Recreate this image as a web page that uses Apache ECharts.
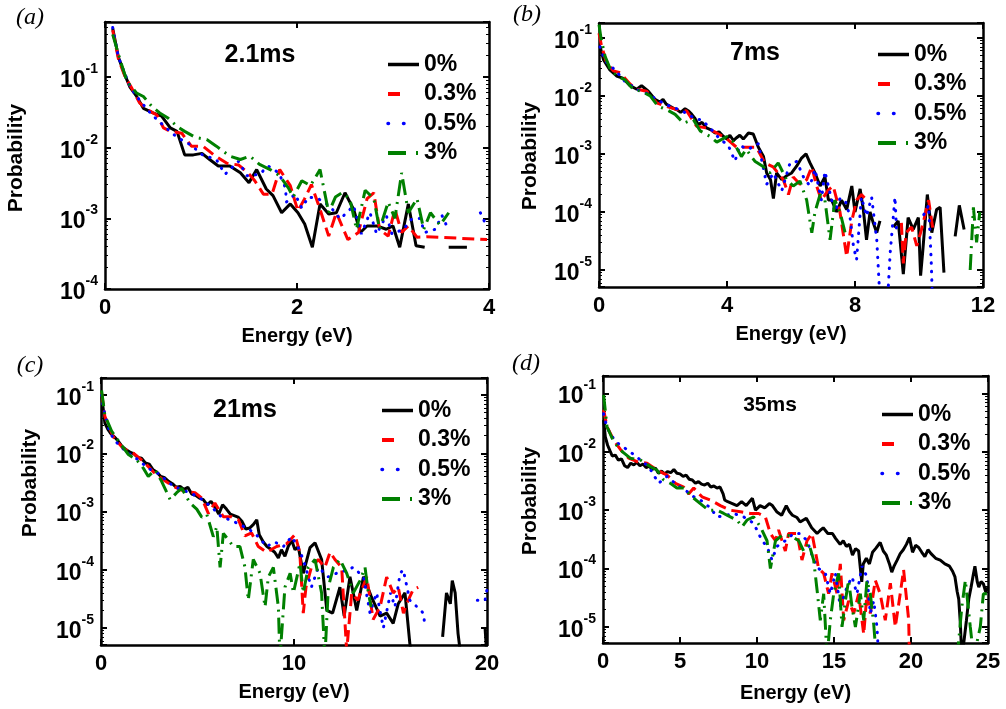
<!DOCTYPE html>
<html><head><meta charset="utf-8">
<script src="https://cdn.jsdelivr.net/npm/echarts@6/dist/echarts.min.js"></script>
<style>html,body{margin:0;padding:0;background:#fff}#c{width:1006px;height:709px}</style>
</head><body><div id="c"></div>
<script>
// ---------- DATA ----------
const seriesNames = ['0%', '0.3%', '0.5%', '3%'];
const panelTitles = ['2.1ms', '7ms', '21ms', '35ms'];
const panelTags = ['(a)', '(b)', '(c)', '(d)'];
const xMaxes = [4, 12, 20, 25];
const xIntervals = [2, 4, 10, 5];
const yMins = [1e-4, 5.1e-6, 5.1e-6, 5.3e-6];
const yMaxes = [0.6, 0.18, 0.196, 0.2];

// Panel (a) 2.1ms
const A_0 = [[0.08,0.49],[0.14,0.19],[0.20,0.113],[0.26,0.072],[0.33,0.053],[0.40,0.036],[0.50,0.031],[0.59,0.028],[0.68,0.019],[0.75,0.017],[0.83,0.0079],[0.92,0.0079],[1.01,0.0083],[1.09,0.0068],[1.18,0.0055],[1.30,0.0055],[1.41,0.0044],[1.50,0.0032],[1.58,0.0049],[1.68,0.0026],[1.75,0.0021],[1.84,0.0012],[1.93,0.0016],[2.01,0.0012],[2.08,0.00083],[2.16,0.00039],[2.24,0.0016],[2.33,0.00115],[2.41,0.0012],[2.50,0.0023],[2.59,0.00134],[2.66,0.00063],[2.73,0.00078],[2.83,0.00078],[2.93,0.0007],[3.00,0.00078],[3.07,0.00039],[3.16,0.0016],[3.24,0.00041],[3.33,0.00039],[3.45,null],[3.58,0.00039],[3.77,0.00039]];
const A_03 = [[0.08,0.46],[0.14,0.18],[0.21,0.1],[0.28,0.069],[0.36,0.043],[0.45,0.034],[0.54,0.029],[0.61,0.019],[0.68,0.017],[0.80,0.016],[0.90,0.0105],[1.02,0.0105],[1.15,0.0076],[1.27,0.006],[1.39,0.0057],[1.49,0.0044],[1.56,0.0034],[1.65,0.0022],[1.74,0.0022],[1.82,0.0049],[1.93,0.0029],[2.01,0.00127],[2.08,0.0019],[2.15,0.003],[2.24,0.00134],[2.33,0.00056],[2.41,0.0012],[2.53,0.0005],[2.64,0.00063],[2.73,0.0019],[2.80,0.0023],[2.86,0.0007],[2.95,0.00056],[3.02,0.00134],[3.09,0.00063],[3.16,0.00078],[3.25,0.00054],[3.35,0.00055],[3.98,0.0005]];
const A_05 = [[0.08,0.5],[0.14,0.19],[0.26,0.073],[0.36,0.047],[0.49,0.029],[0.62,0.02],[0.75,0.014],[0.89,0.011],[1.02,0.0078],[1.16,0.0068],[1.25,0.0042],[1.39,0.0064],[1.48,0.004],[1.61,0.0042],[1.70,0.0055],[1.81,0.0044],[1.88,0.0027],[1.89,0.0017],[1.98,0.0022],[2.05,0.0014],[2.12,0.002],[2.22,0.0019],[2.34,0.0015],[2.45,0.00098],[2.59,0.0015],[2.67,0.0006],[2.76,0.0012],[2.83,0.0006],[2.93,0.0011],[2.99,0.0006],[3.11,0.0007],[3.19,0.00096],[3.28,0.001],[3.33,0.00063],[3.44,0.0007],[3.51,0.0011],[3.56,0.00078],[3.7,null],[3.91,0.0012],[3.98,0.00075]];
const A_3 = [[0.08,0.4],[0.16,0.17],[0.23,0.086],[0.33,0.059],[0.40,0.053],[0.49,0.038],[0.57,0.031],[0.66,0.026],[0.75,0.02],[0.83,0.017],[0.94,0.014],[1.06,0.013],[1.16,0.0105],[1.30,0.0076],[1.41,0.0068],[1.51,0.0076],[1.61,0.0058],[1.72,0.0049],[1.82,0.004],[1.91,0.0027],[1.96,0.002],[2.05,0.0034],[2.14,0.0029],[2.24,0.0049],[2.33,0.0012],[2.40,0.002],[2.47,0.0023],[2.55,0.0019],[2.62,0.0007],[2.71,0.0025],[2.80,0.0019],[2.86,0.0007],[2.95,0.0017],[3.02,0.001],[3.09,0.0044],[3.16,0.0012],[3.25,0.0019],[3.32,0.0007],[3.39,0.0012],[3.49,0.0008],[3.58,0.0012]];

// Panel (b) 7ms
const B_0 = [[0.03,0.072],[0.14,0.042],[0.34,0.028],[0.55,0.022],[0.76,0.02],[0.97,0.015],[1.18,0.013],[1.33,0.015],[1.54,0.012],[1.75,0.0087],[1.9,0.0078],[2.0,0.0087],[2.1,0.0072],[2.22,0.0066],[2.33,0.0061],[2.43,0.0058],[2.55,0.0052],[2.69,0.006],[2.8,0.0055],[2.9,0.0048],[3.0,0.0041],[3.1,0.0032],[3.22,0.0035],[3.36,0.0028],[3.5,0.0026],[3.62,0.0023],[3.75,0.0024],[3.89,0.002],[4.0,0.0018],[4.09,0.0021],[4.2,0.0017],[4.3,0.0019],[4.4,0.0021],[4.51,0.0018],[4.67,0.0023],[4.82,0.0022],[4.98,0.0013],[5.14,0.0009],[5.24,0.00047],[5.36,0.00036],[5.45,0.00017],[5.55,0.00047],[5.71,0.00036],[5.86,0.00042],[6.02,0.00047],[6.18,0.00062],[6.33,0.00085],[6.47,0.001],[6.59,0.00071],[6.75,0.00047],[6.91,0.00028],[7.06,0.0004],[7.17,0.00016],[7.27,0.00016],[7.43,0.0001],[7.58,0.00016],[7.74,0.00011],[7.9,0.00028],[8.0,0.0001],[8.16,0.00025],[8.26,0.00011],[8.36,0.000033],[8.47,0.0001],[8.57,0.000065],[8.68,0.000044],[8.78,0.00007],[9.0,null],[9.2,0.000055],[9.35,0.00007],[9.51,0.0000085],[9.66,0.00008],[9.82,0.00005],[9.98,0.00008],[10.05,0.000008],[10.12,0.000022],[10.26,0.0002],[10.4,0.000044],[10.55,0.00011],[10.66,0.00012],[10.78,0.000009],[11.0,null],[11.13,0.000038],[11.26,0.00013],[11.41,0.00005]];
const B_03 = [[0.0,0.12],[0.08,0.072],[0.24,0.037],[0.45,0.027],[0.66,0.025],[0.97,0.016],[1.18,0.013],[1.49,0.012],[1.8,0.0076],[2.11,0.0066],[2.43,0.0058],[2.74,0.0055],[3.05,0.003],[3.36,0.0028],[3.68,0.0023],[4.0,0.0018],[4.3,0.0013],[4.6,0.0013],[4.92,0.0013],[5.18,0.0007],[5.44,0.0006],[5.76,0.00036],[5.92,0.0002],[6.07,0.0004],[6.28,0.0003],[6.49,0.00036],[6.65,0.0006],[6.8,0.00028],[6.95,0.00016],[7.17,0.00024],[7.32,0.00028],[7.53,0.0001],[7.74,0.000017],[7.9,0.00007],[8.05,0.00016],[8.2,0.0002],[8.36,0.00016],[8.9,null],[9.45,0.000065],[9.51,0.000013],[9.6,0.000044],[9.77,0.000055],[9.93,0.000026],[10.08,0.00005],[10.3,0.00016],[10.45,0.000044]];
const B_05 = [[0.03,0.07],[0.19,0.04],[0.5,0.028],[0.8,0.018],[1.18,0.013],[1.49,0.011],[1.8,0.0087],[2.11,0.007],[2.43,0.006],[2.74,0.005],[3.05,0.0039],[3.2,0.0039],[3.47,0.0028],[3.78,0.0018],[4.04,0.0014],[4.25,0.00075],[4.4,0.0014],[4.66,0.0012],[4.98,0.0015],[5.24,0.0003],[5.45,0.00047],[5.71,0.00023],[5.97,0.0007],[6.18,0.00074],[6.39,0.0004],[6.59,0.00028],[6.75,0.00054],[6.95,0.00016],[7.06,0.0005],[7.22,0.00021],[7.37,0.0001],[7.53,0.00017],[7.69,0.00016],[7.84,0.000085],[7.95,0.000026],[8.05,0.000015],[8.2,0.00018],[8.36,0.000085],[8.52,0.00018],[8.68,0.000033],[8.8,0.000002],[9.0,0.000002],[9.1,0.00002],[9.25,0.00018],[9.3,0.000044],[9.6,null],[10.15,0.00009],[10.3,0.00013],[10.38,0.000015],[10.42,0.000003]];
const B_3 = [[0.0,0.17],[0.06,0.1],[0.19,0.048],[0.34,0.03],[0.55,0.022],[0.81,0.019],[1.07,0.013],[1.33,0.012],[1.6,0.01],[1.85,0.0066],[2.11,0.0058],[2.38,0.0048],[2.64,0.0034],[2.95,0.0039],[3.16,0.0025],[3.47,0.002],[3.68,0.0016],[4.0,0.002],[4.2,0.0016],[4.45,0.0009],[4.6,0.0012],[4.87,0.00075],[5.14,0.0006],[5.34,0.00047],[5.6,0.0007],[5.86,0.00036],[6.07,0.00028],[6.28,0.00034],[6.49,0.00016],[6.65,0.000044],[6.75,0.0001],[6.91,0.0002],[7.06,0.00016],[7.22,0.000033],[7.37,0.00016],[7.53,0.0001],[7.69,0.000044],[9.0,null],[11.6,0.00001],[11.7,0.00012],[11.8,0.00003],[11.9,0.0001]];

// Panel (c) 21ms
const C_0 = [[0.03,0.1],[0.12,0.056],[0.2,0.033],[0.35,0.026],[0.5,0.022],[0.7,0.019],[0.9,0.016],[1.1,0.013],[1.3,0.0115],[1.5,0.0105],[1.7,0.0098],[1.9,0.0085],[2.1,0.0082],[2.3,0.0068],[2.5,0.0065],[2.7,0.0052],[2.9,0.0047],[3.1,0.004],[3.3,0.0038],[3.5,0.0033],[3.7,0.003],[3.9,0.0026],[4.1,0.0027],[4.3,0.0024],[4.5,0.0026],[4.7,0.002],[4.9,0.0019],[5.1,0.0017],[5.3,0.0016],[5.5,0.0013],[5.7,0.0015],[5.9,0.0012],[6.1,0.0009],[6.3,0.0013],[6.5,0.0011],[6.7,0.0009],[6.9,0.00085],[7.1,0.0008],[7.3,0.00068],[7.5,0.0005],[7.7,0.00052],[7.9,0.0006],[8.07,0.00072],[8.2,0.0004],[8.41,0.0003],[8.6,0.00025],[8.84,0.00022],[9.0,0.0002],[9.19,0.00016],[9.35,0.00022],[9.53,0.00017],[9.7,0.00025],[9.88,0.00032],[10.05,0.00022],[10.22,0.00025],[10.48,0.000087],[10.83,0.00024],[11.09,0.00029],[11.43,0.00015],[11.7,0.00002],[12.0,0.000018],[12.38,0.00005],[12.6,0.000016],[12.9,0.000076],[13.25,0.00002],[13.6,0.000076],[14.0,0.000035],[14.46,0.000016],[14.8,0.000018],[15.14,0.000012],[15.4,0.000026],[15.75,0.00004],[16.0,0.0000055],[16.1,0.000003],[16.9,null],[17.7,0.000007],[17.9,0.00004],[18.1,0.000026],[18.2,0.000065],[18.35,0.00004],[18.5,0.000008],[18.66,0.000003],[19.3,null],[19.9,0.00001],[20,0.000003]];
const C_03 = [[0.03,0.11],[0.2,0.043],[0.64,0.019],[1.16,0.012],[1.68,0.01],[2.2,0.0072],[2.71,0.0048],[3.23,0.0035],[3.75,0.0027],[4.35,0.0022],[4.87,0.0021],[5.22,0.0017],[5.56,0.00093],[5.9,0.0014],[6.34,0.00081],[6.77,0.00081],[7.12,0.00072],[7.46,0.00038],[7.8,0.00043],[8.15,0.00025],[8.58,0.0002],[9.1,0.00025],[9.62,0.00028],[10.05,0.0004],[10.3,0.0002],[10.48,0.000018],[10.62,0.00005],[10.9,0.00011],[11.26,0.00015],[11.6,0.00011],[11.87,0.0002],[12.12,0.00015],[12.47,0.00011],[12.73,0.000004],[12.99,0.00004],[13.3,0.00003],[13.77,0.000075],[14.1,0.000014],[14.46,0.000023],[14.8,0.000075],[15.14,0.00004],[15.4,0.00005],[15.67,0.000018],[15.92,0.00003],[16.18,0.000046],[16.44,0.00005]];
const C_05 = [[0.03,0.1],[0.12,0.06],[0.47,0.022],[0.9,0.014],[1.42,0.01],[1.93,0.0077],[2.45,0.0055],[2.97,0.0045],[3.58,0.003],[4.1,0.0024],[4.61,0.0021],[5.13,0.0017],[5.73,0.0012],[6.25,0.0008],[6.68,0.00072],[7.2,0.0006],[7.72,0.00048],[8.15,0.00037],[8.58,0.00025],[9.0,0.0003],[9.45,0.00025],[9.88,0.00037],[10.22,0.00024],[10.48,0.00015],[10.9,0.00005],[11.26,0.00011],[11.78,0.000075],[12.2,0.000087],[12.64,0.000096],[13.07,0.00011],[13.6,0.000075],[13.94,0.000018],[14.28,0.00004],[14.63,0.00001],[15.0,0.00004],[15.23,0.000023],[15.5,0.000087],[15.66,0.0001],[16.0,0.00003],[16.44,0.000022],[16.7,0.000018],[16.8,0.00001],[17.5,null],[19.5,0.00003],[19.7,0.00003],[19.9,0.00003],[20,0.000046]];
const C_3 = [[0.03,0.12],[0.2,0.045],[0.55,0.024],[0.98,0.015],[1.42,0.0095],[1.85,0.0077],[2.2,0.0055],[2.45,0.004],[2.8,0.0052],[3.14,0.0033],[3.58,0.0016],[3.92,0.0021],[4.18,0.0025],[4.61,0.0014],[4.96,0.0011],[5.22,0.0008],[5.48,0.0009],[5.82,0.00037],[6.0,0.00055],[6.17,0.00011],[6.34,0.00042],[6.68,0.0003],[6.86,0.00025],[7.2,0.00025],[7.46,0.00011],[7.63,0.00003],[7.89,0.00015],[8.24,0.000087],[8.5,0.000023],[8.67,0.000075],[8.93,0.00011],[9.19,0.000023],[9.27,0.000003],[9.53,0.00005],[9.8,0.000087],[9.97,0.00004],[10.31,0.00013],[10.48,0.00004],[10.74,0.00011],[11.09,0.00015],[11.43,0.00004],[11.6,0.000003],[11.78,0.00005],[12.04,0.00011],[12.38,0.00015],[12.73,0.000087],[13.07,0.00004],[13.42,0.000065],[13.68,0.00011],[13.85,0.00004],[14.0,0.000023]];

// Panel (d) 35ms
const D_0 = [[0.04,0.035],[0.15,0.018],[0.3,0.013],[0.45,0.0105],[0.6,0.0085],[0.8,0.0088],[1.0,0.0072],[1.2,0.0076],[1.4,0.0058],[1.6,0.0054],[1.8,0.0064],[2.0,0.006],[2.2,0.0066],[2.4,0.0058],[2.6,0.0062],[2.8,0.0054],[3.0,0.0057],[3.2,0.005],[3.4,0.0053],[3.6,0.0043],[3.8,0.0047],[4.0,0.0042],[4.2,0.0046],[4.4,0.0044],[4.6,0.005],[4.8,0.0043],[5.0,0.0042],[5.2,0.0038],[5.4,0.004],[5.6,0.0034],[5.8,0.0033],[6.0,0.0029],[6.2,0.0031],[6.4,0.0028],[6.6,0.0027],[6.8,0.0029],[7.0,0.0025],[7.2,0.0026],[7.4,0.0024],[7.6,0.0025],[7.8,0.0019],[7.9,0.0015],[8.1,0.0014],[8.4,0.0013],[8.7,0.0012],[9.0,0.0014],[9.3,0.0012],[9.7,0.0016],[9.9,0.001],[10.2,0.0012],[10.5,0.0011],[10.8,0.0013],[11.0,0.0012],[11.3,0.00093],[11.6,0.00082],[11.9,0.0012],[12.1,0.00095],[12.3,0.00082],[12.6,0.00075],[12.8,0.00063],[13.2,0.00073],[13.55,0.0005],[13.9,0.0004],[14.1,0.00045],[14.3,0.0005],[14.6,0.0004],[14.9,0.0004],[15.1,0.00033],[15.4,0.00026],[15.6,0.0003],[15.8,0.00024],[16.0,0.00026],[16.2,0.00017],[16.4,0.00022],[16.6,0.0002],[16.8,0.000059],[16.9,0.00012],[17.1,0.00015],[17.3,0.00012],[17.5,0.00019],[17.7,0.00022],[18.0,0.00028],[18.2,0.0002],[18.4,0.00017],[18.6,0.00012],[18.75,0.000087],[18.9,0.00011],[19.1,0.00014],[19.3,0.00018],[19.5,0.00021],[19.7,0.00026],[19.9,0.00034],[20.1,0.00019],[20.3,0.00025],[20.5,0.00023],[20.7,0.00019],[20.9,0.00016],[21.1,0.00021],[21.3,0.00018],[21.6,0.00015],[21.9,0.00014],[22.2,0.00012],[22.5,0.00011],[22.7,0.00009],[22.85,0.000073],[23.0,0.00004],[23.1,0.00003],[23.2,0.000012],[23.3,0.000003],[23.45,0.000006],[23.6,0.000013],[23.75,0.00003],[23.9,0.000048],[24.05,0.00008],[24.15,0.00011],[24.3,0.00006],[24.4,0.000048],[24.55,0.00006],[24.7,0.000055],[24.85,0.00004],[25,0.000048]];
const D_03 = [[0.04,0.053],[0.26,0.027],[0.69,0.016],[1.13,0.011],[1.67,0.0078],[2.21,0.0068],[2.86,0.0064],[3.5,0.0049],[4.16,0.004],[4.7,0.0029],[5.24,0.0025],[5.56,0.0019],[5.89,0.0024],[6.43,0.0017],[6.97,0.0015],[7.62,0.0012],[8.27,0.001],[8.92,0.00094],[9.57,0.00088],[10.11,0.00088],[10.54,0.00077],[10.87,0.0004],[11.2,0.0003],[11.4,0.00046],[11.84,0.0002],[12.05,0.0004],[12.6,0.0004],[12.92,0.00014],[13.25,0.0003],[13.57,0.0004],[14.0,0.0001],[14.33,0.000083],[14.65,0.000037],[14.87,0.000083],[15.2,0.000037],[15.41,0.00012],[15.63,0.000013],[15.95,0.000028],[16.28,0.000017],[16.6,0.000037],[16.93,0.0000075],[17.14,0.000037],[17.36,0.000017],[17.68,0.000063],[18.0,0.000037],[18.33,0.000013],[18.66,0.000056],[18.98,0.00001],[19.3,0.000037],[19.52,0.000095],[19.85,0.000013],[19.9,0.000003]];
const D_05 = [[0.04,0.045],[0.26,0.026],[0.8,0.015],[1.34,0.012],[1.88,0.0095],[2.42,0.0073],[2.97,0.0056],[3.61,0.0029],[4.16,0.0038],[4.8,0.0027],[5.45,0.0021],[5.89,0.0017],[6.32,0.0015],[6.97,0.0011],[7.4,0.00077],[7.84,0.0008],[8.48,0.00088],[9.13,0.00077],[9.78,0.0006],[10.33,0.0003],[10.65,0.00024],[10.97,0.00014],[11.3,0.00024],[11.84,0.0003],[12.38,0.0004],[12.81,0.0004],[13.25,0.0003],[13.68,0.00014],[14.0,0.0001],[14.44,0.000083],[14.76,0.000037],[15.09,0.000083],[15.41,0.000022],[15.84,0.000048],[16.17,0.000072],[16.49,0.000037],[16.82,0.00011],[17.14,0.000072],[17.36,0.000017],[17.58,0.000028],[17.79,0.00001],[17.9,0.000003]];
const D_3 = [[0.04,0.095],[0.26,0.027],[0.69,0.015],[1.23,0.0102],[1.77,0.0078],[2.42,0.0073],[3.07,0.0056],[3.5,0.0049],[3.94,0.0033],[4.37,0.0029],[4.8,0.0024],[5.24,0.0024],[5.78,0.0017],[6.32,0.0013],[6.86,0.001],[7.4,0.001],[7.84,0.00088],[8.27,0.00077],[8.7,0.00068],[9.03,0.00052],[9.35,0.00068],[9.78,0.00077],[10.22,0.00052],[10.65,0.0003],[10.87,0.0001],[11.2,0.0003],[11.62,0.00037],[12.16,0.00037],[12.71,0.0003],[13.03,0.0002],[13.36,0.00027],[13.68,0.00014],[13.9,0.000043],[14.11,0.000013],[14.33,0.000037],[14.55,0.000003],[14.76,0.000013],[14.98,0.000037],[15.3,0.000083],[15.52,0.00001],[15.74,0.000028],[15.95,0.000063],[16.17,0.000022],[16.39,0.00001],[16.71,0.000037],[16.93,0.000013],[17.14,0.000063],[17.36,0.000037],[17.58,0.000011],[17.75,0.000003],[20,null],[23.0,0.000003],[23.3,0.000022],[23.53,0.000063],[23.85,0.00001],[24.07,0.000003],[24.5,0.00001],[24.7,0.000037],[24.93,0.000037]];

const panelData = [[A_0, A_03, A_05, A_3], [B_0, B_03, B_05, B_3], [C_0, C_03, C_05, C_3], [D_0, D_03, D_05, D_3]];

// ---------- LAYOUT / STYLE ----------
const FONT = '"Liberation Sans", Arial, sans-serif';
const grids = [
  {left: 105, top: 22, width: 384, height: 267},
  {left: 599, top: 23, width: 384, height: 264},
  {left: 101, top: 378, width: 386, height: 267},
  {left: 603, top: 376, width: 385, height: 267}
];
const titlePos = [[260, 55, 25], [755, 53, 25], [245, 410, 25], [770, 405, 21]];
const tagPos = [[30, 18], [527, 15], [30, 366], [526, 364]];
const probPos = [[16, 158], [530, 156], [30, 483], [530, 501]];
const legendPos = [[386, 52], [876, 42], [380, 398], [880, 402]];
const nameGaps = [37, 37, 37, 40];

const lineStyles = [
  {color: '#000000', width: 3, type: 'solid'},
  {color: '#ff0000', width: 3, type: [12, 6]},
  {color: '#0000ff', width: 3, type: [0.5, 8], cap: 'round'},
  {color: '#008000', width: 3, type: [16, 6, 2, 6]}
];
const legendLineStyles = [
  {color: '#000000', width: 3.5, type: 'solid'},
  {color: '#ff0000', width: 4, type: [12, 40]},
  {color: '#0000ff', width: 3.5, type: [0.5, 15], cap: 'round'},
  {color: '#008000', width: 4, type: [18, 10, 2, 30]}
];

function yFmt(v) {
  const l = Math.log10(v); const e = Math.round(l);
  if (Math.abs(l - e) > 1e-6) return '';
  return '{b|10}{s|' + e + '}';
}

const xAxes = [], yAxes = [], series = [], legends = [], graphics = [];
grids.forEach((g, i) => {
  const axLine = {show: true, onZero: false, lineStyle: {color: '#000', width: 2.5}};
  xAxes.push({
    type: 'value', gridIndex: i, min: 0, max: xMaxes[i], interval: xIntervals[i],
    axisLine: axLine, splitLine: {show: false},
    axisTick: {inside: true, length: 6, lineStyle: {width: 2}},
    axisLabel: {margin: 8, color: '#000', fontFamily: FONT, fontWeight: 'bold', fontSize: 22},
    name: 'Energy (eV)', nameLocation: 'middle', nameGap: nameGaps[i],
    nameTextStyle: {color: '#000', fontFamily: FONT, fontWeight: 'bold', fontSize: 20}
  });
  xAxes.push({
    type: 'value', gridIndex: i, position: 'top', min: 0, max: xMaxes[i], interval: xIntervals[i],
    axisLine: axLine, splitLine: {show: false},
    axisTick: {inside: true, length: 6, lineStyle: {width: 2}},
    axisLabel: {show: false}
  });
  const rich = {
    b: {fontFamily: FONT, fontWeight: 'bold', fontSize: 23, color: '#000', lineHeight: 30, verticalAlign: 'bottom'},
    s: {fontFamily: FONT, fontWeight: 'bold', fontSize: 14, color: '#000', lineHeight: 13, verticalAlign: 'top'}
  };
  yAxes.push({
    type: 'log', logBase: 10, gridIndex: i, min: yMins[i], max: yMaxes[i],
    axisLine: axLine, splitLine: {show: false},
    axisTick: {inside: true, length: 6, lineStyle: {width: 2}},
    minorTick: {show: true, splitNumber: 9, length: 3, lineStyle: {color: '#000', width: 1}},
    axisLabel: {margin: 7, formatter: yFmt, rich: rich}
  });
  yAxes.push({
    type: 'log', logBase: 10, gridIndex: i, position: 'right', min: yMins[i], max: yMaxes[i],
    axisLine: axLine, splitLine: {show: false},
    axisTick: {inside: true, length: 6, lineStyle: {width: 2}},
    minorTick: {show: true, splitNumber: 9, length: 3, lineStyle: {color: '#000', width: 1}},
    axisLabel: {show: false}
  });
  panelData[i].forEach((d, k) => {
    series.push({
      type: 'line', name: seriesNames[k], xAxisIndex: 2 * i, yAxisIndex: 2 * i,
      data: d, showSymbol: false, symbol: 'none', connectNulls: false, clip: true,
      itemStyle: {color: lineStyles[k].color},
      lineStyle: lineStyles[k], animation: false, z: 2 + k
    });
  });
  legends.push({
    orient: 'vertical', left: legendPos[i][0], top: legendPos[i][1], padding: 0,
    itemWidth: 31, itemHeight: 14, itemGap: 4.5, selectedMode: false,
    itemStyle: {opacity: 0},
    data: seriesNames.map((n, k) => ({name: n, lineStyle: legendLineStyles[k], itemStyle: {opacity: 0}})),
    textStyle: {fontFamily: FONT, fontWeight: 'bold', fontSize: 23, color: '#000', lineHeight: 25}
  });
  graphics.push({
    type: 'text', x: titlePos[i][0], y: titlePos[i][1],
    style: {text: panelTitles[i], font: 'bold ' + titlePos[i][2] + 'px ' + FONT, fill: '#000', align: 'center', verticalAlign: 'middle'}
  });
  graphics.push({
    type: 'text', x: tagPos[i][0], y: tagPos[i][1],
    style: {text: panelTags[i], font: 'italic 24px "Liberation Serif", "Times New Roman", serif', fill: '#000', align: 'center', verticalAlign: 'middle'}
  });
  graphics.push({
    type: 'text', x: probPos[i][0], y: probPos[i][1], rotation: Math.PI / 2,
    style: {text: 'Probability', font: 'bold 21px ' + FONT, fill: '#000', align: 'center', verticalAlign: 'middle'}
  });
});

const chart = echarts.init(document.getElementById('c'), null, {renderer: 'canvas'});
chart.setOption({
  animation: false,
  backgroundColor: '#ffffff',
  grid: grids,
  xAxis: xAxes,
  yAxis: yAxes,
  legend: legends,
  series: series,
  graphic: graphics
});
</script>
</body></html>
